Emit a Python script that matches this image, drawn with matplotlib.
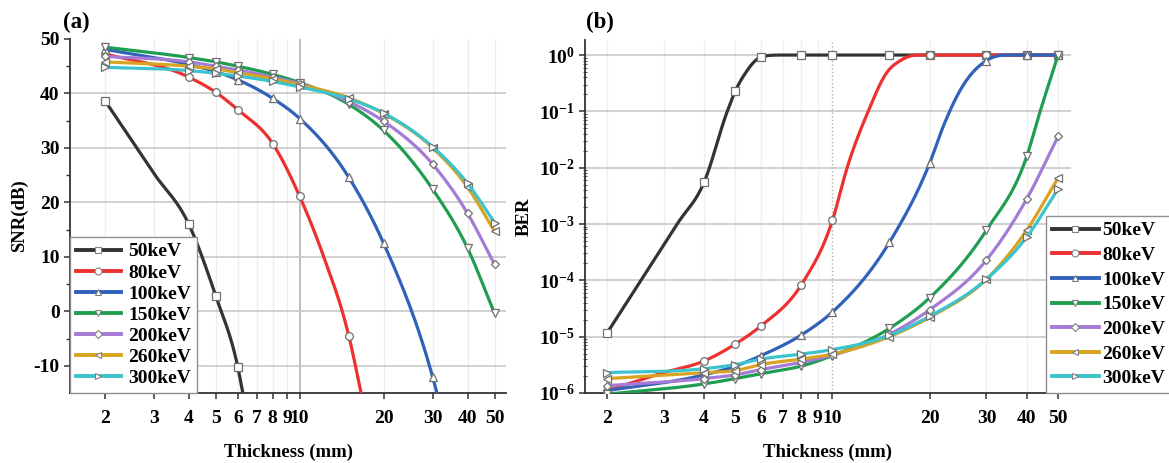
import numpy as np
import matplotlib
matplotlib.use('Agg')
import matplotlib.pyplot as plt
from matplotlib.lines import Line2D
from matplotlib.ticker import FixedLocator, FixedFormatter, NullFormatter, LogLocator

plt.rcParams['font.family'] = ['Liberation Serif', 'DejaVu Serif']
plt.rcParams['font.weight'] = 'bold'
plt.rcParams['axes.unicode_minus'] = False
plt.rcParams['mathtext.fontset'] = 'custom'
plt.rcParams['mathtext.rm'] = 'Liberation Serif:bold'
plt.rcParams['mathtext.bf'] = 'Liberation Serif:bold'
plt.rcParams['mathtext.default'] = 'rm'

labels = ['50keV', '80keV', '100keV', '150keV', '200keV', '260keV', '300keV']
colors = ['#333333', '#ee3030', '#2f62b8', '#1f9e52', '#a57bd6', '#d9a322', '#3cc3cc']
markers = ['s', 'o', '^', 'v', 'D', '<', '>']

mark_x = [2, 4, 5, 6, 8, 10, 15, 20, 30, 40, 50]
x_all = [2, 4, 5, 6, 8, 10, 15, 20, 30, 40, 50]

# ---- (a) SNR(dB) ----
snr_x = [
    [2, 3, 4, 5, 6, 6.3],
    [2, 4, 5, 6, 8, 10, 12, 15, 17],
    [2, 4, 5, 6, 8, 10, 15, 20, 30, 32],
    x_all, x_all, x_all, x_all,
]
snr_y = [
    [38.7, 25.3, 16.0, 2.8, -10.3, -15.9],
    [47.3, 43.0, 40.2, 37.0, 30.8, 21.1, 11.0, -4.5, -17.5],
    [48.1, 45.3, 44.0, 42.5, 39.1, 35.4, 24.6, 12.5, -12.1, -17.5],
    [48.5, 46.6, 45.8, 45.0, 43.5, 42.0, 38.0, 33.2, 22.4, 11.6, -0.4],
    [46.8, 45.8, 45.0, 44.3, 43.0, 41.8, 38.5, 34.9, 27.0, 18.0, 8.6],
    [45.8, 45.0, 44.5, 43.8, 42.7, 41.6, 39.2, 36.3, 30.0, 22.8, 14.7],
    [44.8, 44.2, 43.7, 43.2, 42.2, 41.2, 39.0, 36.4, 30.2, 23.5, 16.3],
]

# ---- (b) BER ----
ber_x = [
    [2, 3.3, 4, 4.72, 5, 5.4, 5.8, 6, 7, 8, 10, 15, 20, 30, 40, 50],
    [2, 3, 4, 5, 6, 8, 10, 11.1, 12.9, 14.7, 16.3, 18.4, 20, 30, 40, 50],
    [2, 4, 5, 6, 8, 10, 15, 20, 22.2, 25, 30, 35, 40, 50],
    [2, 4, 5, 6, 8, 10, 15, 20, 30, 40, 44, 50],
    x_all, x_all, x_all,
]
ber_y = [
    [1.15e-5, 1e-3, 5.5e-3, 0.1, 0.23, 0.5, 0.82, 0.93, 1, 1, 1, 1, 1, 1, 1, 1],
    [1.1e-6, 2.3e-6, 3.7e-6, 7.4e-6, 1.55e-5, 8.3e-5, 1.17e-3, 1e-2, 0.1, 0.48, 0.81, 1, 1, 1, 1, 1],
    [1.1e-6, 2.1e-6, 3.0e-6, 4.6e-6, 1.07e-5, 2.75e-5, 4.7e-4, 1.2e-2, 0.06, 0.25, 0.8, 1, 1, 1],
    [9.5e-7, 1.45e-6, 1.8e-6, 2.2e-6, 3.0e-6, 4.6e-6, 1.4e-5, 4.9e-5, 7.8e-4, 1.6e-2, 0.1, 1],
    [1.35e-6, 1.8e-6, 2.1e-6, 2.6e-6, 3.5e-6, 4.7e-6, 1.1e-5, 3.0e-5, 2.3e-4, 2.8e-3, 3.6e-2],
    [1.8e-6, 2.3e-6, 2.5e-6, 3.2e-6, 4.0e-6, 4.9e-6, 1.0e-5, 2.2e-5, 1.05e-4, 7.8e-4, 6.6e-3],
    [2.3e-6, 2.7e-6, 3.2e-6, 4.0e-6, 4.9e-6, 5.9e-6, 1.05e-5, 2.3e-5, 1.05e-4, 5.9e-4, 4.2e-3],
]

xticks = [2, 3, 4, 5, 6, 7, 8, 9, 10, 20, 30, 40, 50]


def smooth(x, y, xn):
    # monotone cubic: Bessel (3-point parabola) tangents + Fritsch-Carlson limiter
    x = np.asarray(x, float)
    y = np.asarray(y, float)
    n = len(x)
    h = np.diff(x)
    d = np.diff(y) / h
    m = np.zeros(n)
    m[0], m[-1] = d[0], d[-1]
    m[1:-1] = (h[1:] * d[:-1] + h[:-1] * d[1:]) / (h[:-1] + h[1:])
    for k in range(1, n - 1):
        if d[k - 1] * d[k] <= 0:
            m[k] = 0.0
    for k in range(n - 1):
        if d[k] == 0:
            m[k] = m[k + 1] = 0.0
            continue
        a, b = m[k] / d[k], m[k + 1] / d[k]
        s = a * a + b * b
        if s > 9:
            t = 3 / np.sqrt(s)
            m[k], m[k + 1] = t * a * d[k], t * b * d[k]
    i = np.clip(np.searchsorted(x, xn) - 1, 0, n - 2)
    t = (xn - x[i]) / h[i]
    h00 = 2 * t**3 - 3 * t**2 + 1
    h10 = t**3 - 2 * t**2 + t
    h01 = -2 * t**3 + 3 * t**2
    h11 = t**3 - t**2
    return h00 * y[i] + h10 * h[i] * m[i] + h01 * y[i + 1] + h11 * h[i] * m[i + 1]


def draw(ax, xs, ys, logy):
    for k in range(len(labels)):
        lx = np.log10(xs[k])
        xn = np.linspace(lx[0], lx[-1], 500)
        if logy:
            yy = 10**smooth(lx, np.log10(ys[k]), xn)
        else:
            yy = smooth(lx, ys[k], xn)
        ax.plot(10**xn, yy, color=colors[k], lw=2.3, zorder=3 + k, solid_capstyle='round')
        mx = [a for a in xs[k] if a in mark_x]
        my = [b for a, b in zip(xs[k], ys[k]) if a in mark_x]
        ax.plot(mx, my, ls='none', marker=markers[k], ms=5.5 if markers[k] != 'D' else 4.5,
                mfc='white', mec='#707070', mew=0.9, zorder=3 + k)


def handles():
    return [Line2D([], [], color=c, lw=2.8, marker=m, ms=5 if m != 'D' else 4,
                   mfc='white', mec='#808080', mew=0.8) for c, m in zip(colors, markers)]


def xaxis(ax, xmin, xmax):
    ax.set_xscale('log')
    ax.set_xlim(xmin, xmax)
    ax.xaxis.set_major_locator(FixedLocator(xticks))
    ax.xaxis.set_major_formatter(FixedFormatter([str(t) for t in xticks]))
    ax.xaxis.set_minor_locator(FixedLocator([]))
    ax.xaxis.set_minor_formatter(NullFormatter())
    ax.set_xlabel('Thickness (mm)', fontsize=13.5, fontweight='bold', labelpad=12)
    for s in ['top', 'right']:
        ax.spines[s].set_visible(False)
    for s in ['left', 'bottom']:
        ax.spines[s].set_color('#333333')
        ax.spines[s].set_linewidth(1.3)
    ax.tick_params(axis='both', which='major', labelsize=14, length=4, width=1.1, color='#333333')
    ax.tick_params(axis='x', pad=8)


fig = plt.figure(figsize=(11.69, 4.63), dpi=100)

# ---------- (a) ----------
ax1 = fig.add_axes([0.0599, 0.1512, 0.373, 0.7646])
xaxis(ax1, 1.5, 55)
ax1.set_ylim(-15, 50)
ax1.yaxis.set_major_locator(FixedLocator([-10, 0, 10, 20, 30, 40, 50]))
ax1.yaxis.set_minor_locator(FixedLocator([-5, 5, 15, 25, 35, 45]))
ax1.tick_params(axis='y', which='minor', length=3, width=1, color='#333333')
for t in xticks:
    if t == 10:
        ax1.axvline(t, color='#b8b8b8', lw=1.3, zorder=1)
    else:
        ax1.axvline(t, color='#ececec', lw=0.9, zorder=1)
for v in [-10, 0, 10, 20, 30, 40]:
    ax1.axhline(v, color='#c8c8c8', lw=1.2, zorder=1)
draw(ax1, snr_x, snr_y, False)
ax1.set_ylabel('SNR(dB)', fontsize=13.5, fontweight='bold', labelpad=4)
leg1 = ax1.legend(handles(), labels, loc='lower left', bbox_to_anchor=(0, 0), borderaxespad=0,
                  fontsize=14, handlelength=2.3, handletextpad=0.4, labelspacing=0.18,
                  borderpad=0.3, fancybox=False, framealpha=1, edgecolor='#909090')
leg1.get_frame().set_linewidth(1.0)
leg1.set_zorder(20)

# ---------- (b) ----------
ax2 = fig.add_axes([0.5004, 0.1512, 0.4157, 0.7624])
xaxis(ax2, 1.71, 54.8)
ax2.set_yscale('log')
ax2.set_ylim(1e-6, 1.85)
ax2.yaxis.set_major_locator(FixedLocator([1e-6, 1e-5, 1e-4, 1e-3, 1e-2, 1e-1, 1]))
ax2.yaxis.set_major_formatter(FixedFormatter(['$10^{-6}$', '$10^{-5}$', '$10^{-4}$', '$10^{-3}$',
                                              '$10^{-2}$', '$10^{-1}$', '$10^{0}$']))
ax2.yaxis.set_minor_locator(LogLocator(base=10, subs=np.arange(2, 10), numticks=20))
ax2.yaxis.set_minor_formatter(NullFormatter())
ax2.tick_params(axis='y', which='minor', length=2.5, width=0.8, color='#555555', direction='inout')
for t in xticks:
    if t == 10:
        ax2.axvline(t, color='#b0b0b0', lw=1.0, ls=':', zorder=1)
    else:
        ax2.axvline(t, color='#efefef', lw=0.9, zorder=1)
for v in [1e-5, 1e-4, 1e-3, 1e-2, 1e-1, 1]:
    ax2.axhline(v, color='#c8c8c8', lw=1.2, zorder=1)
draw(ax2, ber_x, ber_y, True)
ax2.set_ylabel('BER', fontsize=13.5, fontweight='bold', labelpad=4)
leg2 = ax2.legend(handles(), labels, loc='lower left', bbox_to_anchor=(0.949, 0), borderaxespad=0,
                  fontsize=14, handlelength=2.4, handletextpad=0.2, labelspacing=0.36,
                  borderpad=0.3, fancybox=False, framealpha=1, edgecolor='#909090')
leg2.get_frame().set_linewidth(1.0)
leg2.set_zorder(20)

fig.text(63 / 1169, 1 - 22 / 463, '(a)', fontsize=16.5, fontweight='bold', va='center', ha='left')
fig.text(586 / 1169, 1 - 22 / 463, '(b)', fontsize=16.5, fontweight='bold', va='center', ha='left')

fig.savefig('out.png', dpi=100, facecolor='white')
